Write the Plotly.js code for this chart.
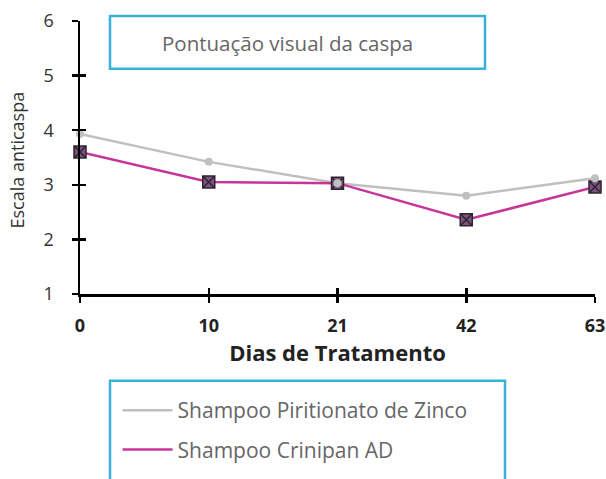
<!DOCTYPE html>
<html>
<head>
<meta charset="utf-8">
<script src="https://cdn.plot.ly/plotly-3.0.1.min.js"></script>
<style>html,body{margin:0;padding:0;background:#fff;}#chart{width:606px;height:479px;}</style>
</head>
<body>
<div id="chart"></div>
<script>
const days = ["0", "10", "21", "42", "63"];
const zinco = [3.93, 3.42, 3.03, 2.80, 3.12];
const crinipan = [3.60, 3.05, 3.03, 2.36, 2.96];
const seriesNames = ["Shampoo Piritionato de Zinco", "Shampoo Crinipan AD"];
const chartTitle = "Pontuação visual da caspa";
const xTitle = "Dias de Tratamento";
const yTitle = "Escala anticaspa";

const FONT = "'Open Sans', sans-serif";
const grey = "#c0c0c0";
const pink = "#c8359a";
const boxBlue = "#35b1da";

// pixel → paper helpers (plot area: x 80..595, y 21..295)
const px = v => (v - 80) / 515;
const py = v => (295 - v) / 274;

const traces = [
  {x: days, y: zinco, type: "scatter", mode: "lines", name: seriesNames[0],
   line: {color: grey, width: 2.5}, legendgroup: "a", cliponaxis: false},
  {x: days, y: crinipan, type: "scatter", mode: "lines", name: seriesNames[1],
   line: {color: pink, width: 2.5}, legendgroup: "b", cliponaxis: false},
  {x: days, y: crinipan, type: "scatter", mode: "markers", showlegend: false,
   marker: {symbol: "square-x", size: 12, color: "#7d527e", line: {color: "#2e2430", width: 1.5}}, cliponaxis: false},
  {x: days, y: zinco, type: "scatter", mode: "markers", showlegend: false,
   marker: {symbol: "circle", size: 8, color: grey}, cliponaxis: false},
  {x: [], y: [], xaxis: "x2", yaxis: "y2", type: "scatter", showlegend: false}
];

const layout = {
  width: 606, height: 479,
  margin: {l: 80, r: 11, t: 21, b: 184},
  paper_bgcolor: "#fff", plot_bgcolor: "#fff",
  font: {family: FONT, color: "#333"},
  showlegend: true,
  xaxis: {
    type: "category", range: [0, 4], showgrid: false, zeroline: false,
    showline: true, linecolor: "#000", linewidth: 2.5,
    ticks: "outside", ticklen: 6, tickwidth: 2.5, tickcolor: "#000",
    ticklabelstandoff: 8,
    tickfont: {size: 18, weight: "bold", color: "#222"},
    title: {text: xTitle, font: {size: 22, weight: "bold", color: "#222"}, standoff: 9}
  },
  yaxis: {
    range: [1, 6], dtick: 1, showgrid: false, zeroline: false,
    showline: true, linecolor: "#000", linewidth: 2.5,
    ticks: "outside", ticklen: 6, tickwidth: 2.5, tickcolor: "#000",
    ticksuffix: "\u00a0\u00a0\u00a0",
    tickfont: {size: 18, color: "#333"}
  },
  xaxis2: {overlaying: "x", anchor: "y2", range: [0, 4], dtick: 1,
    showgrid: false, zeroline: false, showticklabels: false,
    ticks: "inside", ticklen: 6, tickwidth: 2.5, tickcolor: "#000", showline: false},
  yaxis2: {overlaying: "y", anchor: "x2", range: [1, 6], dtick: 1, showgrid: false, zeroline: false,
    showticklabels: false, ticks: "inside", ticklen: 6, tickwidth: 2.5, tickcolor: "#000", showline: false},
  legend: {
    x: 0.073, y: py(430), xanchor: "left", yanchor: "middle",
    bgcolor: "rgba(0,0,0,0)", borderwidth: 0, itemwidth: 50,
    font: {size: 21, color: "#666"}, tracegroupgap: 9, traceorder: "grouped"
  },
  shapes: [
    {type: "rect", xref: "paper", yref: "paper",
     x0: px(110), x1: px(485), y0: py(16), y1: py(69),
     line: {color: boxBlue, width: 2.5}, fillcolor: "rgba(0,0,0,0)"},
    {type: "rect", xref: "paper", yref: "paper",
     x0: px(110), x1: px(505), y0: py(382), y1: py(500),
     line: {color: boxBlue, width: 2.5}, fillcolor: "rgba(0,0,0,0)"}
  ],
  annotations: [
    {text: chartTitle, xref: "paper", yref: "paper",
     x: px(287), y: py(43), xanchor: "center", yanchor: "middle",
     showarrow: false, font: {size: 20.5, color: "#666"}},
    {text: yTitle, xref: "paper", yref: "paper", textangle: -90,
     x: px(17), y: py(161), xanchor: "center", yanchor: "middle",
     showarrow: false, font: {size: 18, color: "#333"}}
  ]
};

Plotly.newPlot("chart", traces, layout, {displayModeBar: false, staticPlot: true});
</script>
</body>
</html>
